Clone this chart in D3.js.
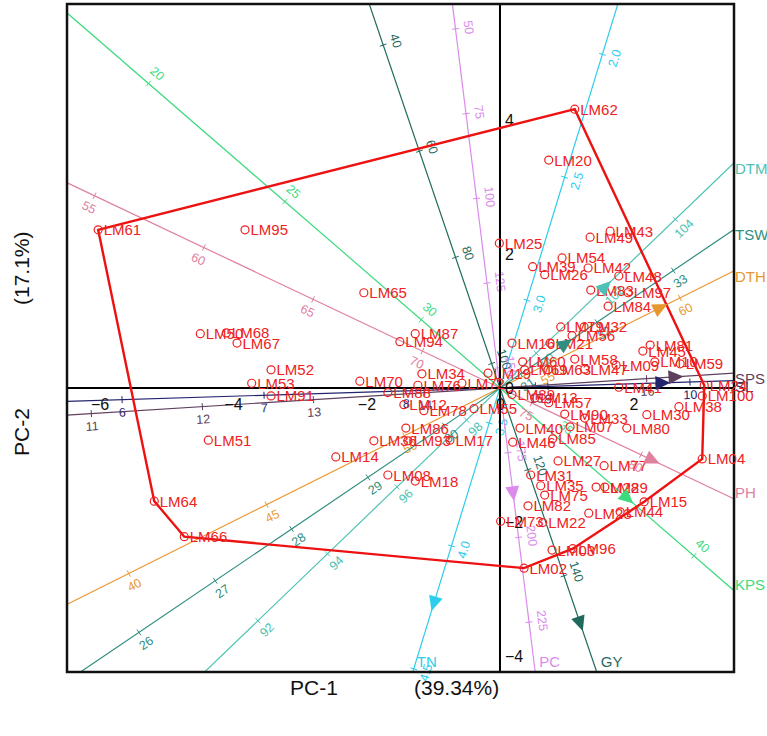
<!DOCTYPE html>
<html><head><meta charset="utf-8">
<script src="https://cdn.jsdelivr.net/npm/d3@7"></script>
<style>body{margin:0;background:#fff;} svg{font-family:Arial,"Liberation Sans",sans-serif;}</style>
</head><body><svg id="c" width="767" height="736"></svg>
<script>
// ---------------- data ----------------
const genotypes = ["LM62","LM20","LM43","LM49","LM25","LM61","LM95","LM65","LM87","LM94","LM50","LM68","LM67","LM52","LM53","LM91","LM51","LM70","LM34","LM76","LM72","LM88","LM12","LM78","LM55","LM86","LM36","LM93","LM17","LM14","LM08","LM18","LM64","LM66","LM02","LM73","LM03","LM96","LM22","LM82","LM75","LM35","LM31","LM27","LM77","LM28","LM29","LM15","LM23","LM44","LM04","LM38","LM30","LM80","LM100","LM24","LM41","LM10","LM59","LM81","LM45","LM09","LM58","LM60","LM69","LM63","LM47","LM16","LM21","LM79","LM32","LM56","LM54","LM39","LM26","LM42","LM83","LM48","LM97","LM84","LM57","LM13","LM89","LM90","LM33","LM40","LM07","LM85","LM46","LM19"];
const pc1 = [1.12,0.73,1.65,1.35,-0.01,-6.02,-3.82,-2.04,-1.27,-1.50,-4.49,-4.10,-3.94,-3.43,-3.72,-3.43,-4.37,-2.10,-1.17,-1.23,-0.57,-1.68,-1.44,-1.14,-0.39,-1.41,-1.89,-1.38,-0.75,-2.46,-1.68,-1.27,-5.18,-4.73,0.36,0.01,0.78,1.09,0.64,0.42,0.67,0.61,0.46,0.87,1.56,1.44,1.57,2.16,1.33,1.80,3.03,2.68,2.20,1.90,3.03,3.06,1.78,2.32,2.70,2.25,2.14,1.74,1.12,0.34,0.37,0.72,1.27,0.18,0.75,0.91,1.26,1.08,0.93,0.49,0.67,1.32,1.36,1.78,1.92,1.62,0.73,0.52,0.18,0.97,1.27,0.30,1.05,0.79,0.19,-0.18];
const pc2 = [4.16,3.40,2.34,2.25,2.16,2.36,2.36,1.42,0.81,0.69,0.81,0.82,0.67,0.27,0.07,-0.12,-0.78,0.10,0.21,0.04,0.07,-0.07,-0.25,-0.34,-0.31,-0.60,-0.79,-0.79,-0.78,-1.03,-1.30,-1.39,-1.69,-2.22,-2.69,-1.99,-2.42,-2.40,-2.01,-1.76,-1.60,-1.46,-1.30,-1.09,-1.16,-1.48,-1.48,-1.70,-1.87,-1.85,-1.06,-0.28,-0.40,-0.60,-0.12,0.04,0.01,0.39,0.36,0.64,0.55,0.34,0.43,0.39,0.27,0.27,0.28,0.67,0.67,0.91,0.91,0.78,1.94,1.81,1.69,1.79,1.46,1.67,1.42,1.22,-0.22,-0.15,-0.10,-0.39,-0.45,-0.60,-0.58,-0.76,-0.81,0.22];

const traits      = ["TN","GY","PC","KPS","PH","DTH","DTM","TSW","SL","SPS"];
const traitLoadX  = [-0.989, 1.199, 0.195, 1.903, 2.277, 2.397, 1.573, 0.974, 2.427, 2.622];
const traitLoadY  = [-3.209,-3.507,-1.567,-1.642,-1.075, 1.194, 1.507, 0.657, 0.075, 0.164];
const traitCentre = [3.357, 104.6, 155.9, 32.89, 73.55, 53.47, 98.96, 30.73, 8.662, 14.68];
const traitUnit   = [3.839, 0.08371, 0.05099, 0.5395, 0.3621, 0.4613, 0.7217, 1.3796, 2.128, 1.667];
const traitTicks  = [
  [2.0,2.5,3.0,3.5,4.0,4.5],
  [40,60,80,100,120,140],
  [50,75,100,125,150,175,200,225],
  [20,25,30,35,40],
  [55,60,65,70,75,80],
  [40,45,50,55,60],
  [92,94,96,98,100,102,104],
  [26,27,28,29,30,31,32,33],
  [6,7,8,9,10],
  [11,12,13,14,15,16]
];
const axisTicksX = [-6,-4,-2,0,2];
const axisTicksY = [4,2,0,-2,-4];
const xTitle = ["PC-1","(39.34%)"];
const yTitle = ["PC-2","(17.1%)"];

// ---------------- styles ----------------
const traitStyle = {
  TN:{color:'#2DCDEB',side:1,fmt:'.1f'},
  GY:{color:'#1F6A5C',side:1,fmt:'d'},
  PC:{color:'#DA8BEB',side:1,fmt:'d'},
  KPS:{color:'#3DDB7E',side:1,fmt:'d'},
  PH:{color:'#E0809F',side:-1,fmt:'d'},
  DTH:{color:'#E8972F',side:-1,fmt:'d'},
  DTM:{color:'#4DC2B2',side:-1,fmt:'d'},
  TSW:{color:'#2F8E80',side:-1,fmt:'d'},
  SL:{color:'#23236E',side:-1,fmt:'d'},
  SPS:{color:'#5E3F5E',side:-1,fmt:'d'}
};
const RED='#EE2222';
const L=67,R=734,T=4,B=672;

const svg=d3.select('#c');
const x=d3.scaleLinear().domain([-6.487,3.506]).range([L,R]);
const y=d3.scaleLinear().domain([5.73,-4.24]).range([T,B]);
svg.append('defs').append('clipPath').attr('id','clip').append('rect')
  .attr('x',L).attr('y',T).attr('width',R-L).attr('height',B-T);

const x0=x(0), y0=y(0);
const gAxes=svg.append('g');
const gMarkers=[];
traits.forEach((t,i)=>{
  const st=traitStyle[t];
  const lx=traitLoadX[i], ly=traitLoadY[i];
  const len=Math.hypot(lx,ly); const ux=lx/len, uy=ly/len;
  const pos=v=>{const d=(v-traitCentre[i])*traitUnit[i]; return [x(d*ux),y(d*uy)];};
  let px=x(ux)-x0, py=y(uy)-y0; const pl=Math.hypot(px,py); px/=pl; py/=pl;
  const g=gAxes.append('g');
  g.append('line').attr('clip-path','url(#clip)')
    .attr('x1',x(-20*ux)).attr('y1',y(-20*uy)).attr('x2',x(20*ux)).attr('y2',y(20*uy))
    .attr('stroke',st.color).attr('stroke-width',1.2);
  const nx=py*st.side, ny=-px*st.side;
  let ang=Math.atan2(py,px)*180/Math.PI; if(ang>90)ang-=180; if(ang<=-90)ang+=180;
  const fmt=d3.format(st.fmt);
  traitTicks[i].forEach(v=>{
    const [tx,ty]=pos(v);
    if(tx<L||tx>R||ty<T||ty>B) return;
    g.append('line').attr('x1',tx-3.5*py).attr('y1',ty+3.5*px).attr('x2',tx+3.5*py).attr('y2',ty-3.5*px)
      .attr('stroke',st.color).attr('stroke-width',1);
    const lxp=tx+nx*13, lyp=ty+ny*13;
    g.append('text').attr('transform',`translate(${lxp},${lyp}) rotate(${ang})`)
      .attr('text-anchor','middle').attr('dominant-baseline','central')
      .attr('font-size',12.5).attr('fill',st.color).text(fmt(v));
  });
  // end label
  let tt=Infinity, edge='';
  if(px>0){const k=(R-x0)/px; if(k<tt){tt=k;edge='R';}}
  if(px<0){const k=(L-x0)/px; if(k<tt){tt=k;edge='L';}}
  if(py>0){const k=(B-y0)/py; if(k<tt){tt=k;edge='B';}}
  if(py<0){const k=(T-y0)/py; if(k<tt){tt=k;edge='T';}}
  const hx=x0+tt*px, hy=y0+tt*py;
  const lab=g.append('text').attr('font-size',15).attr('fill',st.color).text(t);
  if(edge==='R'){lab.attr('x',R+1).attr('y',py<0?hy+11:hy-1);}
  else {lab.attr('x',hx+4).attr('y',B-5);}
  gMarkers.push({x:x(lx),y:y(ly),ang:Math.atan2(py,px)*180/Math.PI,color:st.color});
});

// main axes
svg.append('line').attr('x1',L).attr('x2',R).attr('y1',y0).attr('y2',y0).attr('stroke','#000').attr('stroke-width',2);
svg.append('line').attr('x1',x0).attr('x2',x0).attr('y1',T).attr('y2',B).attr('stroke','#000').attr('stroke-width',2);
const ax=svg.append('g').attr('transform',`translate(0,${y0})`)
  .call(d3.axisBottom(x).tickValues(axisTicksX).tickSize(0).tickPadding(11).tickFormat(d3.format('d')));
ax.select('.domain').remove();
ax.selectAll('text').attr('font-size',16).attr('font-family','Arial,"Liberation Sans",sans-serif').attr('fill','#111');
const ay=svg.append('g').attr('transform',`translate(${x0},0)`)
  .call(d3.axisRight(y).tickValues(axisTicksY).tickSize(0).tickPadding(5).tickFormat(d3.format('d')));
ay.select('.domain').remove();
ay.selectAll('text').attr('font-size',16).attr('font-family','Arial,"Liberation Sans",sans-serif').attr('fill','#111');

// frame
svg.append('rect').attr('x',L).attr('y',T).attr('width',R-L).attr('height',B-T)
  .attr('fill','none').attr('stroke','#111').attr('stroke-width',2.5);

// hull
const pts=genotypes.map((g,i)=>[x(pc1[i]),y(pc2[i])]);
const hull=d3.polygonHull(pts);
svg.append('path').attr('d','M'+hull.join('L')+'Z').attr('fill','none').attr('stroke','#EE1111').attr('stroke-width',2.4);

// points
const gp=svg.append('g');
genotypes.forEach((g,i)=>{
  gp.append('circle').attr('cx',x(pc1[i])).attr('cy',y(pc2[i])).attr('r',4)
    .attr('fill','none').attr('stroke',RED).attr('stroke-width',1.2);
  gp.append('text').attr('x',x(pc1[i])+5.5).attr('y',y(pc2[i])).attr('dominant-baseline','central')
    .attr('font-size',15).attr('fill',RED).text(g);
});

// markers
gMarkers.forEach(m=>{
  svg.append('path').attr('d','M8.5,0L-6.5,-7L-6.5,7Z')
    .attr('transform',`translate(${m.x},${m.y}) rotate(${m.ang})`).attr('fill',m.color);
});

// titles
const xt=svg.append('text').attr('y',695).attr('font-size',21).attr('fill','#111');
xt.append('tspan').attr('x',290).text(xTitle[0]);
xt.append('tspan').attr('x',414).text(xTitle[1]);
const yt=svg.append('text').attr('transform','translate(29,0) rotate(-90)').attr('font-size',21).attr('fill','#111');
yt.append('tspan').attr('x',-456).text(yTitle[0]);
yt.append('tspan').attr('x',-305).text(yTitle[1]);
</script></body></html>
